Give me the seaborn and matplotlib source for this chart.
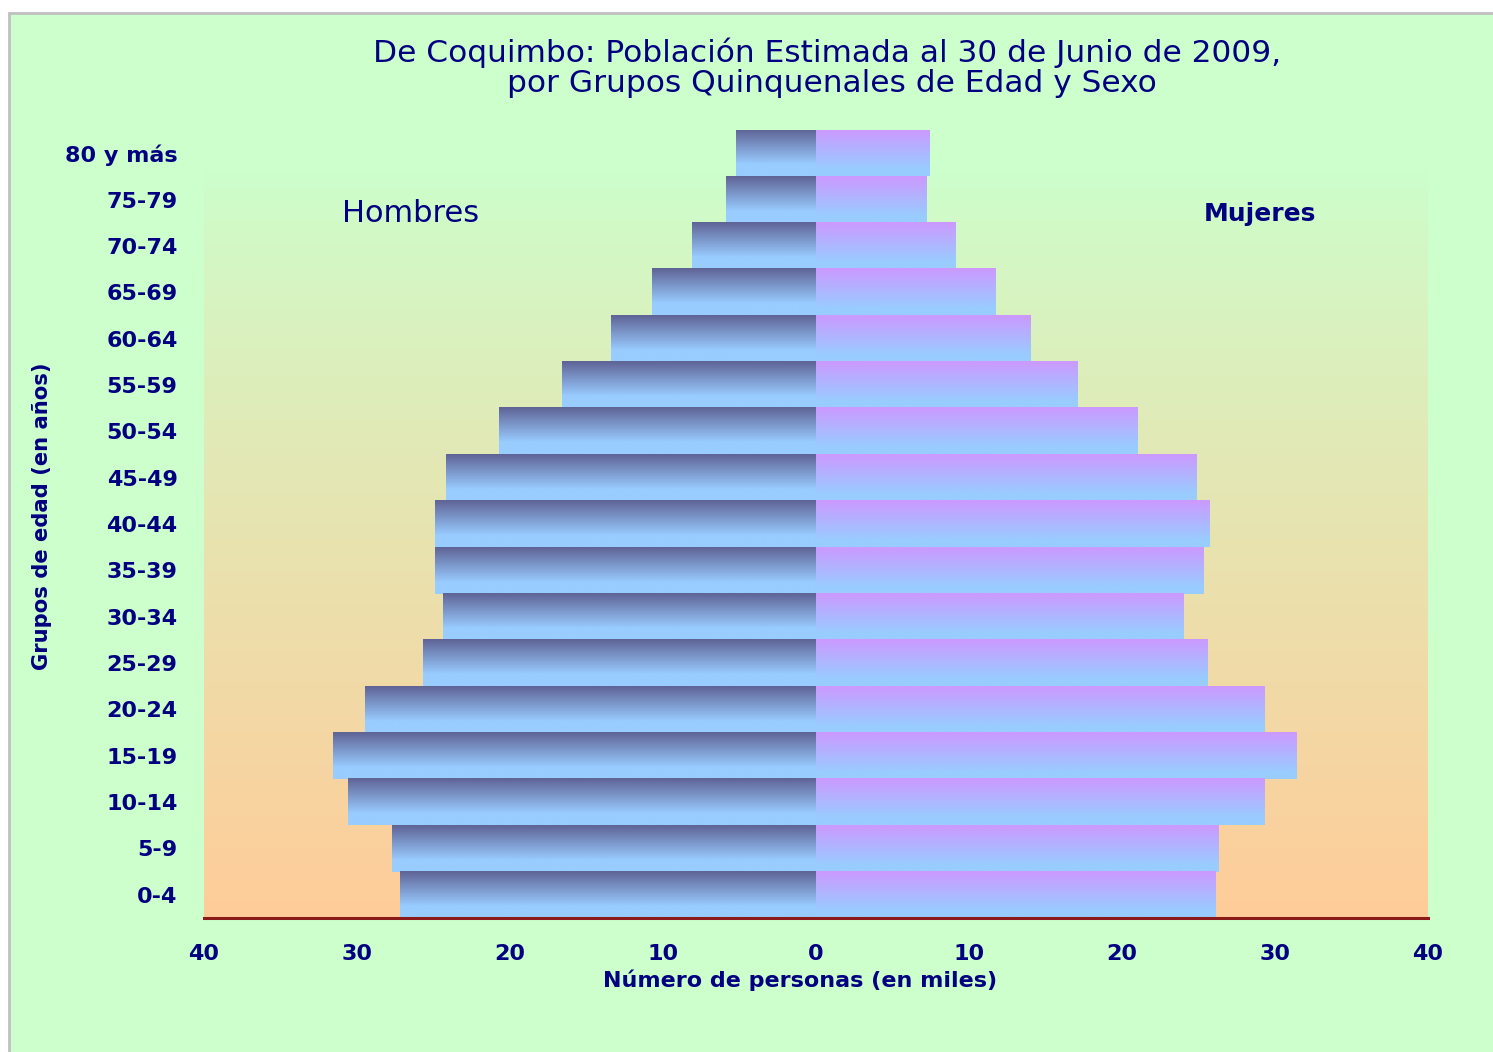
import numpy as np
import pandas as pd
import matplotlib
matplotlib.use("Agg")
import matplotlib.pyplot as plt
import seaborn as sns
from matplotlib.colors import to_rgb
from matplotlib.patches import Rectangle

# ---- data (thousands of people) ----
age_groups = ["80 y más", "75-79", "70-74", "65-69", "60-64", "55-59", "50-54",
              "45-49", "40-44", "35-39", "30-34", "25-29", "20-24", "15-19",
              "10-14", "5-9", "0-4"]
hombres = [5.2, 5.9, 8.1, 10.7, 13.4, 16.6, 20.7, 24.2, 24.9, 24.9, 24.4,
           25.7, 29.5, 31.6, 30.6, 27.7, 27.2]
mujeres = [7.4, 7.25, 9.15, 11.75, 14.05, 17.1, 21.0, 24.9, 25.7, 25.3, 24.05,
           25.6, 29.3, 31.4, 29.3, 26.3, 26.1]
xticks_vals = [-40, -30, -20, -10, 0, 10, 20, 30, 40]
xtick_labels = ["40", "30", "20", "10", "0", "10", "20", "30", "40"]

title_line1 = "De Coquimbo: Población Estimada al 30 de Junio de 2009,"
title_line2 = "por Grupos Quinquenales de Edad y Sexo"
navy = "#000080"

df = pd.DataFrame({
    "grupo": age_groups * 2,
    "valor": [-v for v in hombres] + mujeres,
    "sexo": ["Hombres"] * len(age_groups) + ["Mujeres"] * len(age_groups),
})

sns.set_theme(style="white")
plt.rcParams["font.family"] = ["DejaVu Sans"]

W, H = 1493, 1052
fig = plt.figure(figsize=(W / 100, H / 100), dpi=100, facecolor="white")
# green panel with grey border
fig.patches.append(Rectangle((8.5 / W, -0.01), 1.1, 1 - 12.5 / H + 0.01,
                             transform=fig.transFigure, facecolor="#CCFFCC",
                             edgecolor="#C0C0C0", linewidth=2, zorder=-5))

ax = fig.add_axes([204 / W, 1 - 918 / H, (1428 - 204) / W, (918 - 130) / H])
ax.set_facecolor("none")
ax.set_zorder(2)

sns.barplot(data=df, x="valor", y="grupo", hue="sexo", order=age_groups,
            dodge=False, width=1.0, orient="h", ax=ax, legend=False,
            palette={"Hombres": "#6a6fa3", "Mujeres": "#c99cff"},
            linewidth=0)

ax.set_xlim(-40, 40)
ax.set_ylim(len(age_groups) - 0.5, -0.5)

# background gradient of plot area (green top -> peach bottom)
top_c = np.array(to_rgb("#CCFFCC"))
bot_c = np.array(to_rgb("#FFCC99"))
t = np.linspace(0, 1, 256)[:, None] ** 0.85
bg = (top_c[None, :] * (1 - t) + bot_c[None, :] * t)[:, None, :]
bg_top = -0.5 + (170 - 130) / ((918 - 130) / len(age_groups))
ax.imshow(bg, extent=[-40, 40, len(age_groups) - 0.5, bg_top], aspect="auto",
          zorder=0, interpolation="bilinear")

# gradient bars
male_top = np.array(to_rgb("#5f6396"))
fem_top = np.array(to_rgb("#cc99ff"))
light = np.array(to_rgb("#99ccff"))
tt = np.linspace(0, 1, 128)
male_t = np.clip(tt / 0.75, 0, 1)[:, None]
male_grad = (male_top[None, :] * (1 - male_t) + light[None, :] * male_t)[:, None, :]
fem_t = np.clip(tt / 0.85, 0, 1)[:, None]
fem_grad = (fem_top[None, :] * (1 - fem_t) + light[None, :] * fem_t)[:, None, :]

for p in list(ax.patches):
    x0, y0 = p.get_x(), p.get_y()
    w, h = p.get_width(), p.get_height()
    if w == 0:
        continue
    grad = male_grad if (x0 + w / 2) < 0 else fem_grad
    xa, xb = sorted([x0, x0 + w])
    ya, yb = sorted([y0, y0 + h])
    ax.imshow(grad, extent=[xa, xb, yb, ya], aspect="auto", zorder=2,
              interpolation="bilinear")
    p.set_visible(False)

ax.set_xlim(-40, 40)
ax.set_ylim(len(age_groups) - 0.5, -0.5)

for s in ["top", "left", "right"]:
    ax.spines[s].set_visible(False)
ax.spines["bottom"].set_color("#8B1A1A")
ax.spines["bottom"].set_linewidth(2.2)
ax.spines["bottom"].set_zorder(5)

ax.set_xticks(xticks_vals)
ax.set_xticklabels(xtick_labels)
ax.tick_params(axis="both", length=0)
ax.tick_params(axis="x", pad=19, labelsize=16, labelcolor=navy)
ax.tick_params(axis="y", pad=19, labelsize=16, labelcolor=navy)
for lab in ax.get_xticklabels() + ax.get_yticklabels():
    lab.set_fontweight("bold")
ax.set_xlabel("")
ax.set_ylabel("")

fig.text(827 / W, 1 - 53 / H, title_line1, ha="center", va="center",
         fontsize=22.5, color=navy)
fig.text(832 / W, 1 - 84 / H, title_line2, ha="center", va="center",
         fontsize=22.5, color=navy)
fig.text(800 / W, 1 - 980 / H, "Número de personas (en miles)", ha="center",
         va="center", fontsize=16, fontweight="bold", color=navy)
fig.text(42 / W, 1 - 516 / H, "Grupos de edad (en años)", ha="center",
         va="center", rotation=90, fontsize=15.2, fontweight="bold", color=navy)
fig.text(411 / W, 1 - 213 / H, "Hombres", ha="center", va="center",
         fontsize=22, color=navy)
fig.text(1260 / W, 1 - 214 / H, "Mujeres", ha="center", va="center",
         fontsize=18, fontweight="bold", color=navy)

fig.savefig("out.png", dpi=100, facecolor=fig.get_facecolor())
